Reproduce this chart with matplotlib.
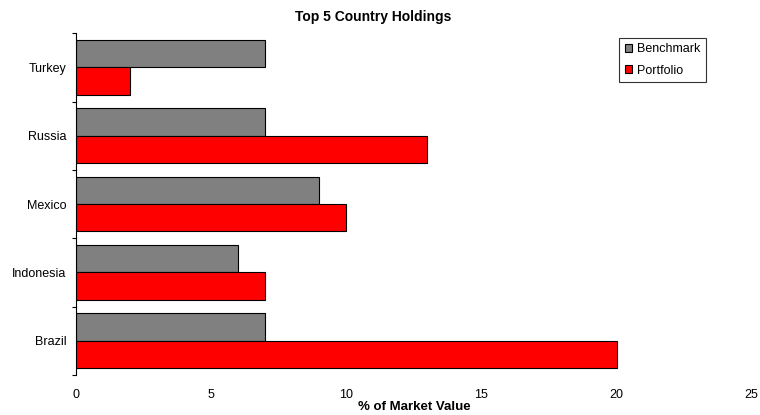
import matplotlib
matplotlib.use("Agg")
import matplotlib.pyplot as plt
import numpy as np

# data
countries = ["Brazil", "Indonesia", "Mexico", "Russia", "Turkey"]
benchmark = [7, 6, 9, 7, 7]
portfolio = [20, 7, 10, 13, 2]

plt.rcParams["font.family"] = ["Liberation Sans", "DejaVu Sans"]

fig = plt.figure(figsize=(7.6, 4.15), dpi=100)
ax = fig.add_axes([0.1, 0.0964, 0.889, 0.8236])

y = np.arange(len(countries))
h = 0.4
ax.barh(y + h / 2, benchmark, height=h, color="#808080", edgecolor="black",
        linewidth=0.8, label="Benchmark")
ax.barh(y - h / 2, portfolio, height=h, color="#ff0000", edgecolor="black",
        linewidth=0.8, label="Portfolio")

ax.set_xlim(0, 25)
ax.set_ylim(-0.5, len(countries) - 0.5)
ax.set_xticks([0, 5, 10, 15, 20, 25])
ax.set_yticks(y)
ax.set_yticklabels(countries)
ax.set_yticks(np.arange(-0.5, len(countries)), minor=True)
ax.tick_params(axis="y", which="major", length=0, labelsize=9, pad=7)
ax.tick_params(axis="y", which="minor", length=3, width=0.8)
ax.tick_params(axis="x", length=0, labelsize=9, pad=10)

for s in ["top", "right", "bottom"]:
    ax.spines[s].set_visible(False)
ax.spines["left"].set_linewidth(0.8)

ax.set_title("Top 5 Country Holdings", fontsize=10, fontweight="bold",
             x=0.44, pad=9)
ax.set_xlabel("% of Market Value", fontsize=9.5, fontweight="bold", labelpad=0)

leg = ax.legend(loc="upper right", bbox_to_anchor=(0.933, 0.987), fontsize=9,
                frameon=True, fancybox=False, edgecolor="black",
                handlelength=0.6, handleheight=0.6, handletextpad=0.4,
                borderpad=0.45, borderaxespad=0, labelspacing=0.75)
leg.get_frame().set_linewidth(0.8)

fig.savefig("out.png", dpi=100)
